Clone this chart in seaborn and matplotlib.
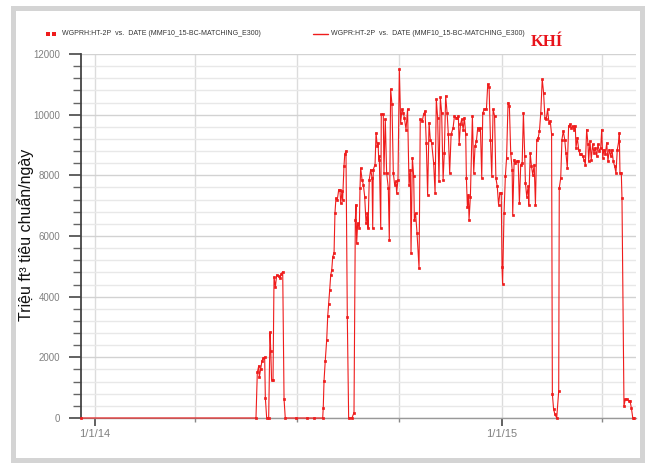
import pandas as pd
import matplotlib
matplotlib.use("Agg")
import matplotlib.pyplot as plt
import matplotlib.dates as mdates
from matplotlib.lines import Line2D
from matplotlib.patches import Rectangle
from matplotlib.ticker import MultipleLocator, FuncFormatter
import seaborn as sns

# simulated gas rate, days counted from 1/1/14
start_date = "2014-01-01"
days = [
    -12.6, 144.5, 145.7, 147.0, 147.5, 148.7, 149.9, 151.1, 152.3, 152.9,
    154.1, 155.9, 157.1, 157.8, 158.5, 159.8, 160.7, 161.9, 163.1, 164.9,
    166.1, 167.2, 168.5, 169.7, 170.8, 180.0, 190.0, 197.0, 204.4, 204.9,
    205.6, 206.7, 208.0, 208.9, 209.8, 210.7, 211.6, 212.5, 213.4, 214.6,
    215.4, 216.3, 217.5, 218.8, 219.9, 220.6, 221.7, 222.3, 223.5, 224.2,
    225.3, 226.5, 227.7, 230.7, 232.5, 233.7, 234.3, 234.9, 235.8, 237.3,
    237.9, 238.5, 239.7, 240.9, 242.1, 243.3, 244.5, 245.1, 246.2, 247.5,
    248.7, 249.3, 249.8, 251.4, 252.3, 253.4, 254.1, 254.7, 255.2, 256.5,
    257.0, 258.8, 259.4, 260.6, 261.8, 263.3, 264.2, 265.4, 266.6, 267.8,
    269.0, 270.2, 270.8, 272.0, 273.2, 274.4, 275.6, 276.8,
    277.7, 279.2, 280.6, 281.9, 283.1, 283.7, 284.9, 286.1, 286.7, 287.8,
    289.1, 290.9, 292.0, 293.8, 295.0, 296.3, 297.4, 298.6, 299.9, 301.0,
    302.2, 304.0, 305.3, 306.4, 307.6, 308.8, 310.0, 311.2, 312.5, 313.6,
    314.8, 316.1, 317.2, 318.4, 319.7, 321.5, 322.7, 323.8, 325.1, 326.2,
    326.9, 328.1, 329.2, 330.5, 331.6, 332.8, 333.4, 334.3, 335.2, 335.8,
    337.0, 338.8, 340.0, 341.2, 342.4, 343.6, 344.8, 346.0, 347.2, 348.1,
    349.6, 351.4, 352.6, 353.8, 355.0, 356.2, 357.4,
    358.7, 359.9, 361.1, 362.3, 363.5, 364.7, 365.4, 365.9, 367.2, 368.4,
    369.5, 370.8, 372.0, 373.2, 374.5, 375.0, 376.3, 377.5, 378.6, 379.9,
    381.0, 382.2, 383.5, 384.6, 385.8, 386.4, 387.6, 388.9, 389.4, 390.7,
    391.8, 393.0, 394.3, 395.4, 396.6, 397.9, 399.0, 400.2, 401.5, 402.7,
    403.9, 405.1, 406.3, 407.5, 408.7, 409.9, 410.6, 411.7, 412.9, 414.5,
    416.3, 416.8, 418.1, 419.2, 420.4, 421.7, 422.8, 424.0, 425.2, 426.4,
    427.6, 428.8, 430.0, 431.2,
    431.8, 433.0, 434.2, 435.4, 436.6, 437.8, 439.0, 440.2, 441.4, 442.6,
    443.2, 444.4, 445.5, 446.8, 447.9, 449.1, 450.4, 451.5, 452.7, 454.0,
    454.9, 455.8, 456.9, 458.1, 459.4, 460.5, 461.7, 463.0, 464.1, 465.3,
    466.5, 467.7, 468.9, 470.2, 470.7, 471.3, 472.5, 473.1, 474.9, 476.1,
    477.9, 479.1, 480.3, 481.5, 482.8, 483.9,
]
gas_rate = [
    0, 0, 1500, 1720, 1340, 1610, 1890, 1980, 2000, 670,
    0, 0, 2830, 2200, 1250, 1260, 4650, 4320, 4710, 4670,
    4600, 4760, 4820, 620, 0, 0, 0, 0, 0, 340,
    1230, 1890, 2580, 3350, 3770, 4230, 4710, 4870, 5310, 5450,
    6750, 7250, 7190, 7530, 7500, 7080, 7470, 7190, 8300, 8690,
    8800, 3320, 0, 0, 180, 6530, 7030, 5760, 6420, 6250,
    7580, 8240, 7860, 7690, 7300, 6420, 6750, 6250, 7860, 8190,
    7910, 6250, 8190, 8350, 9400, 8960, 9070, 8520, 8630, 6250,
    10010, 10010, 8080, 9850, 8080, 7580, 5870, 10840, 10340, 8080,
    7690, 7800, 7420, 7860, 11500, 9740, 10180, 10060,
    9900, 9510, 10180, 7690, 8190, 5430, 8580, 7970, 6530, 6750,
    6090, 4930, 9850, 9790, 10010, 10120, 9070, 7360, 9740, 9180,
    9070, 8410, 7420, 10510, 9900, 7800, 10570, 10060, 7860, 8740,
    10620, 10060, 9350, 8080, 9350, 9570, 9960, 9900, 9900, 9960,
    9020, 9680, 9850, 9510, 9900, 9350, 7910, 6970, 7360, 6530,
    7300, 9960, 8080, 8960, 9130, 9570, 9510, 9570, 7910, 10060,
    10180, 10180, 11010, 10900, 9180, 7970, 10180,
    9960, 7910, 7640, 7030, 7420, 7420, 4980, 4430, 6750, 7970,
    8580, 10400, 10290, 8740, 8190, 6700, 8520, 8410, 8460, 8460,
    7080, 8350, 8410, 10060, 8630, 7750, 7300, 7640, 7030, 8740,
    8300, 8020, 8350, 7030, 9180, 9240, 9460, 10060, 11170, 10730,
    9900, 9850, 10180, 9740, 9790, 9350, 790, 290, 120, 0,
    890, 7580, 7910, 9180, 9460, 9180, 8740, 8240, 9620, 9680,
    9570, 9620, 9510, 9620,
    8900, 9240, 8850, 8690, 8690, 8630, 8520, 8350, 9510, 9020,
    8460, 9130, 8520, 9020, 8740, 8900, 8630, 9020, 8800, 8900,
    9510, 8580, 8850, 8690, 9070, 8460, 8850, 8630, 8850, 8460,
    8300, 8080, 8850, 9130, 9400, 8080, 8080, 7250, 400, 620,
    620, 560, 560, 340, 0, 0,
]
legend_labels = [
    "WGPRH:HT-2P  vs.  DATE (MMF10_15-BC-MATCHING_E300)",
    "WGPR:HT-2P  vs.  DATE (MMF10_15-BC-MATCHING_E300)",
]
title_text = "KHÍ"
y_label = "Triệu ft³ tiêu chuẩn/ngày"

sns.set_theme(style="white")
plt.rcParams["font.family"] = ["Liberation Sans", "DejaVu Sans"]

red = "#ef1c1c"
t0 = pd.Timestamp(start_date)
df = pd.DataFrame({
    "date": t0 + pd.to_timedelta(days, unit="D"),
    "rate": gas_rate,
})

fig = plt.figure(figsize=(6.48, 4.65), dpi=100)
ax = fig.add_axes([0.125, 0.1011, 0.8565, 0.7828])

sns.lineplot(data=df, x="date", y="rate", ax=ax, color=red, linewidth=0.8,
             marker="s", markersize=2.0, markeredgewidth=0.5, markeredgecolor=red,
             sort=False, estimator=None, clip_on=False, legend=False, zorder=3)

ax.set_xlim(t0 + pd.Timedelta(days=-12.6), t0 + pd.Timedelta(days=485.7))
ax.set_ylim(0, 12000)
ax.set_xlabel("")
ax.set_ylabel("")

# ticks
ax.yaxis.set_major_locator(MultipleLocator(2000))
ax.yaxis.set_minor_locator(MultipleLocator(400))
ax.xaxis.set_major_locator(mdates.YearLocator())
ax.xaxis.set_minor_locator(mdates.MonthLocator(bymonth=(1, 4, 7, 10)))


def date_fmt(x, pos):
    d = mdates.num2date(x)
    return f"{d.month}/{d.day}/{d.year % 100:02d}"


ax.xaxis.set_major_formatter(FuncFormatter(date_fmt))

ax.tick_params(axis="y", which="major", left=True, length=9, width=1.3,
               color="#555555", labelsize=7, labelcolor="#808080", pad=6)
ax.tick_params(axis="y", which="minor", left=True, length=5.5, width=1.0,
               color="#666666")
ax.tick_params(axis="x", which="major", bottom=True, length=6, width=1.3,
               color="#555555", labelsize=8, labelcolor="#808080", pad=2)
ax.tick_params(axis="x", which="minor", bottom=True, length=3, width=1.0,
               color="#888888")

# grid
ax.grid(which="minor", axis="y", color="#e8e8e8", linewidth=1)
ax.grid(which="major", axis="y", color="#d2d2d2", linewidth=1)
ax.grid(which="both", axis="x", color="#dcdcdc", linewidth=1)
ax.set_axisbelow(True)

sns.despine(ax=ax)
ax.spines["left"].set_color("#444444")
ax.spines["left"].set_linewidth(1.3)
ax.spines["bottom"].set_color("#999999")
ax.spines["bottom"].set_linewidth(1.0)

fig.text(0.039, 0.495, y_label, rotation=90, ha="center", va="center",
         fontsize=11.5, color="#111111")

# legend drawn by hand
ly = 0.927
fig.add_artist(Line2D([48 / 648, 54 / 648], [ly, ly], transform=fig.transFigure,
                      linestyle="none", marker="s", markersize=2.4,
                      markeredgewidth=0, color=red))
fig.text(62 / 648, ly, legend_labels[0], fontsize=5.0, color="#333333", va="center")
fig.add_artist(Line2D([313 / 648, 328 / 648], [ly, ly], transform=fig.transFigure,
                      linewidth=1.0, color=red))
fig.text(331 / 648, ly, legend_labels[1], fontsize=5.0, color="#333333", va="center")
fig.text(531 / 648, (465 - 42) / 465, title_text, fontsize=12, fontweight="bold",
         color="#e8131b", family=["Liberation Serif", "DejaVu Serif"], va="center")

# grey frame round the picture
fig.add_artist(Rectangle((0.0193, 0.0108), 0.9707, 0.973, transform=fig.transFigure,
                         fill=False, edgecolor="#d4d4d4", linewidth=3.6))

fig.savefig("out.png", dpi=100)
